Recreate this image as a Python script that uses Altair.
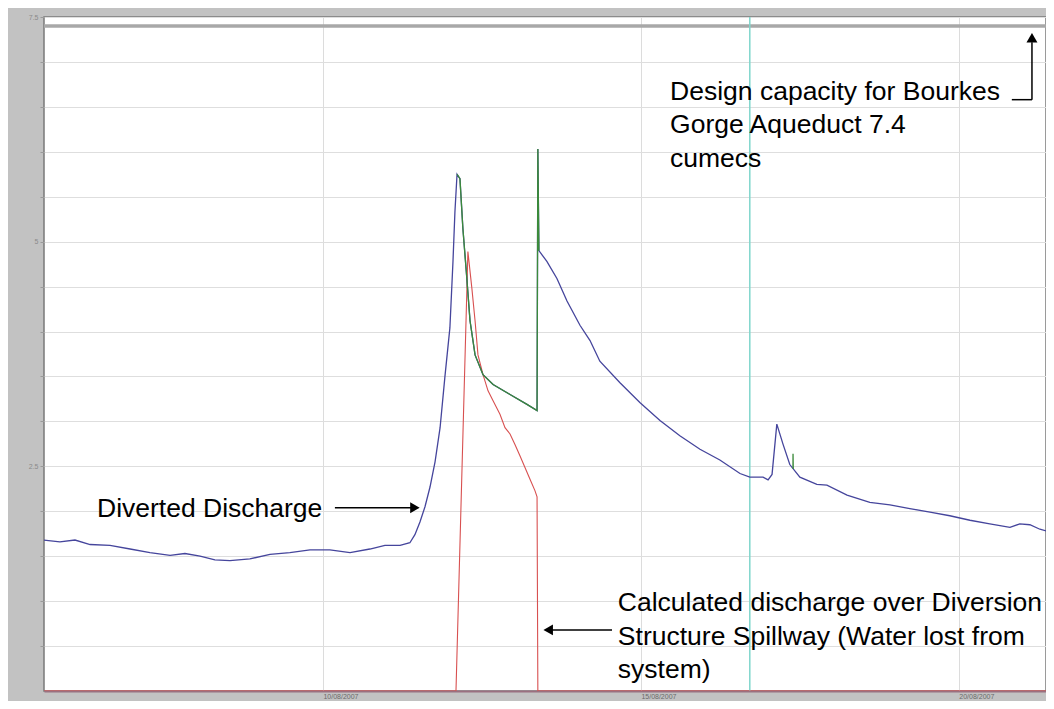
import altair as alt
import pandas as pd

# ---- Diverted discharge (blue) ----
blue_time = [
    "2007-08-05T14:42", "2007-08-05T20:42", "2007-08-06T02:24", "2007-08-06T08:06",
    "2007-08-06T15:36", "2007-08-06T23:12", "2007-08-07T06:42", "2007-08-07T14:18",
    "2007-08-07T19:54", "2007-08-08T01:36", "2007-08-08T07:12", "2007-08-08T12:54",
    "2007-08-08T20:24", "2007-08-09T04:00", "2007-08-09T11:30", "2007-08-09T19:06",
    "2007-08-10T02:36", "2007-08-10T10:12", "2007-08-10T17:42", "2007-08-10T23:24",
    "2007-08-11T05:06", "2007-08-11T08:48", "2007-08-11T10:42", "2007-08-11T12:36",
    "2007-08-11T14:30", "2007-08-11T16:24", "2007-08-11T18:18", "2007-08-11T20:12",
    "2007-08-11T22:00", "2007-08-11T23:54", "2007-08-12T01:04", "2007-08-12T01:48",
    "2007-08-12T02:36", "2007-08-12T03:42", "2007-08-12T04:48", "2007-08-12T06:18",
    "2007-08-12T07:30", "2007-08-12T09:24", "2007-08-12T12:24", "2007-08-12T16:12",
    "2007-08-12T22:36", "2007-08-13T05:00", "2007-08-13T08:48", "2007-08-13T09:06",
    "2007-08-13T09:30", "2007-08-13T12:30", "2007-08-13T16:18", "2007-08-13T20:06",
    "2007-08-14T01:00", "2007-08-14T04:48", "2007-08-14T08:30", "2007-08-14T16:06",
    "2007-08-14T23:36", "2007-08-15T07:12", "2007-08-15T14:42", "2007-08-15T22:18",
    "2007-08-16T05:48", "2007-08-16T13:24", "2007-08-16T17:06", "2007-08-16T22:06",
    "2007-08-17T00:00", "2007-08-17T01:30", "2007-08-17T03:18", "2007-08-17T05:36",
    "2007-08-17T08:12", "2007-08-17T12:00", "2007-08-17T18:24", "2007-08-17T22:12",
    "2007-08-18T05:48", "2007-08-18T14:24", "2007-08-18T22:00", "2007-08-19T05:30",
    "2007-08-19T13:06", "2007-08-19T20:36", "2007-08-20T04:12", "2007-08-20T11:42",
    "2007-08-20T19:18", "2007-08-20T23:00", "2007-08-21T02:48", "2007-08-21T06:36",
    "2007-08-21T11:54",
]
blue_value = [
    1.68, 1.66, 1.68, 1.63, 1.62, 1.58, 1.54, 1.51,
    1.53, 1.50, 1.46, 1.45, 1.47, 1.52, 1.54, 1.57,
    1.57, 1.54, 1.58, 1.62, 1.62, 1.65, 1.74, 1.88,
    2.05, 2.27, 2.55, 2.93, 3.49, 4.04, 4.78, 5.33,
    5.75, 5.70, 5.15, 4.59, 4.12, 3.74, 3.52, 3.41,
    3.30, 3.19, 3.12, 6.03, 4.90, 4.78, 4.59, 4.34,
    4.07, 3.90, 3.67, 3.43, 3.21, 3.01, 2.84, 2.69,
    2.57, 2.42, 2.38, 2.38, 2.35, 2.41, 2.97, 2.75,
    2.52, 2.38, 2.30, 2.29, 2.18, 2.10, 2.07, 2.03,
    1.99, 1.95, 1.90, 1.86, 1.82, 1.86, 1.85, 1.80,
    1.76,
]

# ---- Green segments ----
green_time = [
    "2007-08-12T02:36", "2007-08-12T03:42", "2007-08-12T04:48", "2007-08-12T06:18",
    "2007-08-12T07:30", "2007-08-12T09:24", "2007-08-12T12:24", "2007-08-12T16:12",
    "2007-08-12T22:36", "2007-08-13T05:00", "2007-08-13T08:48", "2007-08-13T09:06",
    "2007-08-13T09:30",
    "2007-08-17T09:24", "2007-08-17T09:25", "2007-08-17T09:30",
]
green_value = [
    5.75, 5.70, 5.15, 4.59, 4.12, 3.74, 3.52, 3.41,
    3.30, 3.19, 3.12, 6.03, 4.90,
    2.49, 2.64, 2.47,
]
green_seg = [1] * 13 + [2] * 3

# ---- Calculated spillway discharge (red) ----
red_time = [
    "2007-08-05T14:42", "2007-08-12T02:12", "2007-08-12T06:42", "2007-08-12T08:12",
    "2007-08-12T09:24", "2007-08-12T10:30", "2007-08-12T12:24", "2007-08-12T14:18",
    "2007-08-12T16:12", "2007-08-12T18:48", "2007-08-12T20:42", "2007-08-12T22:36",
    "2007-08-13T00:30", "2007-08-13T02:18", "2007-08-13T04:12", "2007-08-13T06:06",
    "2007-08-13T08:00", "2007-08-13T08:48", "2007-08-13T09:06", "2007-08-21T11:54",
]
red_value = [
    0.0, 0.0, 4.89, 4.48, 4.12, 3.74, 3.52, 3.34, 3.23, 3.08, 2.93, 2.86,
    2.74, 2.62, 2.49, 2.36, 2.23, 2.16, 0.0, 0.0,
]

design_capacity = 7.4
marker_time = "2007-08-16T17:06"

# ---- Annotations ----
note_time = ["2007-08-15T11:00", "2007-08-15T11:00", "2007-08-15T11:00",
             "2007-08-06T10:42",
             "2007-08-14T15:18", "2007-08-14T15:18", "2007-08-14T15:18"]
note_value = [6.58, 6.21, 5.83, 1.94, 0.89, 0.51, 0.14]
note_text = ["Design capacity for Bourkes", "Gorge Aqueduct 7.4", "cumecs",
             "Diverted Discharge",
             "Calculated discharge over Diversion",
             "Structure Spillway (Water lost from", "system)"]

arrow_t1 = ["2007-08-10T04:30", "2007-08-14T13:06", "2007-08-21T03:36", "2007-08-20T20:00"]
arrow_t2 = ["2007-08-11T10:30", "2007-08-13T13:30", "2007-08-21T03:36", "2007-08-21T03:36"]
arrow_v1 = [2.04, 0.68, 6.58, 6.58]
arrow_v2 = [2.04, 0.68, 7.22, 6.58]

head_time = ["2007-08-11T10:42", "2007-08-13T13:00", "2007-08-21T03:36"]
head_value = [2.04, 0.68, 7.27]
head_shape = ["triangle-right", "triangle-left", "triangle-up"]

blue_df = pd.DataFrame({"t": blue_time, "v": blue_value})
green_df = pd.DataFrame({"t": green_time, "v": green_value, "seg": green_seg})
red_df = pd.DataFrame({"t": red_time, "v": red_value})
note_df = pd.DataFrame({"t": note_time, "v": note_value, "text": note_text})
arrow_df = pd.DataFrame({"t1": arrow_t1, "t2": arrow_t2, "v1": arrow_v1, "v2": arrow_v2})
head_df = pd.DataFrame({"t": head_time, "v": head_value, "shape": head_shape})
cap_df = pd.DataFrame({"v": [design_capacity]})
mark_df = pd.DataFrame({"t": [marker_time]})

xscale = alt.Scale(domain=[alt.DateTime(year=2007, month=8, date=5, hours=14, minutes=42),
                           alt.DateTime(year=2007, month=8, date=21, hours=8, minutes=54)])
yscale = alt.Scale(domain=[0, 7.5], nice=False)

x_axis = alt.Axis(
    values=[alt.DateTime(year=2007, month=8, date=d) for d in (10, 15, 20)],
    format="%d/%m/%Y", labelAlign="left", labelFontSize=7, labelColor="#6a6a6a",
    labelPadding=1, tickSize=0, title=None, grid=True, gridColor="#dcdcdc",
    domainColor="#9a7080", domainWidth=2, labelFlush=False, labelOverlap=False,
)
y_axis = alt.Axis(
    values=[i * 0.5 for i in range(1, 16)],
    labelExpr="datum.value % 2.5 == 0 ? format(datum.value, '~g') : ''",
    labelFontSize=7, labelColor="#8a8a8a", tickSize=4, tickColor="#9a9a9a",
    title=None, grid=True, gridColor="#dedede", domain=False, labelPadding=2,
)

X = alt.X("t:T", scale=xscale, axis=x_axis)
Y = alt.Y("v:Q", scale=yscale, axis=y_axis)

cap = alt.Chart(cap_df).mark_rule(color="#a8a8a8", strokeWidth=3.5).encode(y=alt.Y("v:Q", scale=yscale))
cyan = alt.Chart(mark_df).mark_rule(color="#7fd6cc", strokeWidth=1.5).encode(x=alt.X("t:T", scale=xscale))

blue = alt.Chart(blue_df).mark_line(color="#45459c", strokeWidth=1.3, clip=True).encode(x=X, y=Y)
green = alt.Chart(green_df).mark_line(color="#3a8a3a", strokeWidth=1.3, clip=True).encode(
    x=alt.X("t:T", scale=xscale), y=alt.Y("v:Q", scale=yscale), detail="seg:N")
red = alt.Chart(red_df).mark_line(color="#d85050", strokeWidth=1.1, clip=True).encode(
    x=alt.X("t:T", scale=xscale), y=alt.Y("v:Q", scale=yscale))

notes = alt.Chart(note_df).mark_text(
    align="left", baseline="alphabetic", fontSize=26.5, font="Liberation Sans", color="#000000"
).encode(x=alt.X("t:T", scale=xscale), y=alt.Y("v:Q", scale=yscale), text="text:N")

arrows = alt.Chart(arrow_df).mark_rule(color="#000000", strokeWidth=1.5).encode(
    x=alt.X("t1:T", scale=xscale), x2="t2:T",
    y=alt.Y("v1:Q", scale=yscale), y2="v2:Q")

heads = alt.Chart(head_df).mark_point(filled=True, color="#000000", size=120, opacity=1).encode(
    x=alt.X("t:T", scale=xscale), y=alt.Y("v:Q", scale=yscale),
    shape=alt.Shape("shape:N", scale=None))

chart = alt.layer(cap, cyan, red, blue, green, arrows, heads, notes).properties(
    width=1002, height=674,
    padding={"left": 36, "top": 9, "right": 0, "bottom": 10},
    autosize=alt.AutoSizeParams(type="none"),
    background="#c2c2c2",
).configure_view(fill="#ffffff", stroke="#7a7a7a", strokeWidth=1.5)

chart.save("out.html", embed_options={"renderer": "svg", "actions": False})
